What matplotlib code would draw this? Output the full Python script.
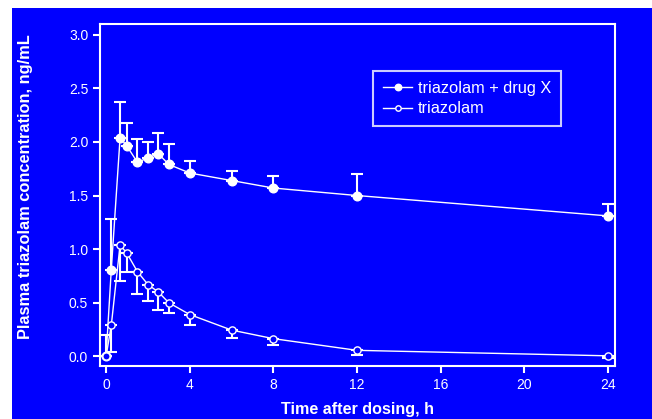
import numpy as np
import matplotlib.pyplot as plt
from matplotlib.patches import Rectangle

# data
time_h = [0, 0.25, 0.67, 1, 1.5, 2, 2.5, 3, 4, 6, 8, 12, 24]

combo_mean = [0.0, 0.81, 2.04, 1.96, 1.81, 1.85, 1.89, 1.79, 1.71, 1.64, 1.57, 1.50, 1.31]
combo_upper = [0.20, 1.28, 2.37, 2.18, 2.03, 2.00, 2.08, 1.98, 1.82, 1.73, 1.68, 1.70, 1.42]

alone_mean = [0.0, 0.29, 1.04, 0.96, 0.79, 0.67, 0.60, 0.50, 0.39, 0.245, 0.165, 0.056, 0.005]
alone_lower = [0.0, 0.04, 0.70, 0.79, 0.58, 0.52, 0.43, 0.40, 0.29, 0.17, 0.105, 0.01, -0.015]

x_ticks = [0, 4, 8, 12, 16, 20, 24]
y_ticks = [0.0, 0.5, 1.0, 1.5, 2.0, 2.5, 3.0]

BLUE = '#0000ff'
W = 652
H = 419

plt.rcParams['font.family'] = ['Liberation Sans', 'DejaVu Sans']

fig = plt.figure(figsize=(W / 100, H / 100), dpi=100)
fig.patch.set_facecolor('white')
# blue panel with a thin white margin top and left
fig.patches.append(Rectangle((12 / W, 0), 1, (H - 8) / H, transform=fig.transFigure,
                             facecolor=BLUE, edgecolor='none', zorder=-10))

ax = fig.add_axes([100 / W, 1 - 366 / H, (615 - 100) / W, (366 - 24) / H])
ax.set_facecolor(BLUE)

t = np.array(time_h)
cm = np.array(combo_mean)
cu = np.array(combo_upper)
am = np.array(alone_mean)
al = np.array(alone_lower)

ax.errorbar(t, cm, yerr=[np.zeros_like(cm), cu - cm], fmt='none', ecolor='white',
            elinewidth=1.5, capsize=4.5, capthick=1.5, zorder=2)
ax.errorbar(t, am, yerr=[am - al, np.zeros_like(am)], fmt='none', ecolor='white',
            elinewidth=1.5, capsize=4.5, capthick=1.5, zorder=2)

ax.plot(t, cm, '-o', color='white', lw=1, ms=6.2, mfc='white', mec='white',
        label='triazolam + drug X', zorder=3)
ax.plot(t, am, '-o', color='white', lw=1, ms=5.2, mfc=BLUE, mec='white', mew=1,
        label='triazolam', zorder=3)

ax.set_xlim(-0.29, 24.33)
ax.set_ylim(-0.09, 3.1)
ax.set_xticks(x_ticks)
ax.set_yticks(y_ticks)
ax.set_yticklabels([f'{v:.1f}' for v in y_ticks])

for s in ax.spines.values():
    s.set_color('white')
    s.set_linewidth(1.5)
ax.tick_params(colors='white', width=1.5, length=5, labelsize=10, direction='out')

ax.set_xlabel('Time after dosing, h', color='white', fontsize=11.6, fontweight='bold', labelpad=7)
ax.set_ylabel('Plasma triazolam concentration, ng/mL', color='white', fontsize=11.8,
              fontweight='bold')
ax.yaxis.set_label_coords((33 - 100) / 515, (366 - 187) / 342)

leg = ax.legend(loc='upper left', bbox_to_anchor=((373 - 100) / 515, 1 - (71 - 24) / 342),
                borderaxespad=0, frameon=True, fancybox=False, facecolor=BLUE,
                edgecolor='white', fontsize=11.8, handlelength=1.8, handletextpad=0.35,
                borderpad=0.6, labelspacing=0.34, markerscale=0.75)
leg.get_frame().set_linewidth(1.5)
for txt in leg.get_texts():
    txt.set_color('white')

fig.savefig('out.png', dpi=100, facecolor=fig.get_facecolor())
